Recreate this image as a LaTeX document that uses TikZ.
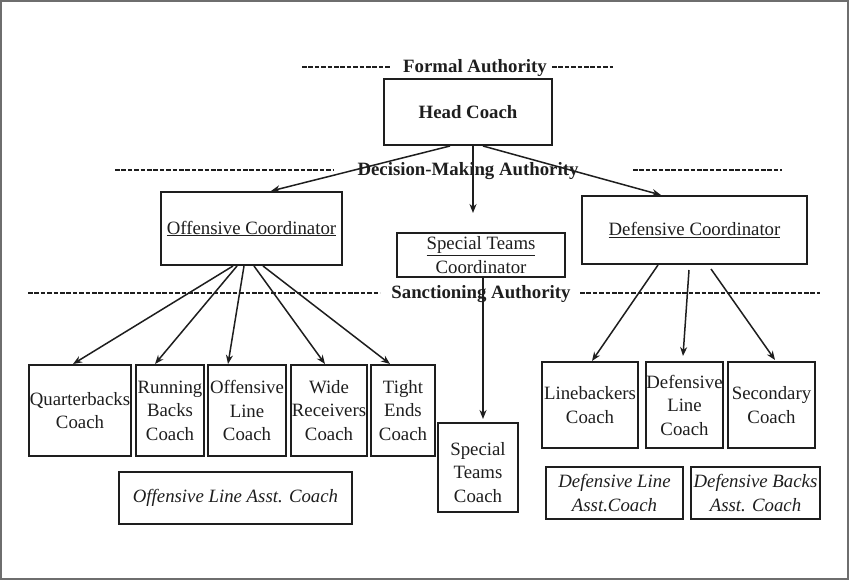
\documentclass[tikz,border=0pt]{standalone}
\usepackage{fontspec}
\setmainfont{Liberation Serif}
\usetikzlibrary{arrows.meta}
\definecolor{ink}{RGB}{30,30,30}
\definecolor{framegray}{RGB}{110,110,110}
\begin{document}
\begin{tikzpicture}[x=1pt,y=-1pt,
  every node/.style={font=\fontsize{18.8}{23.5}\selectfont, text=ink, inner sep=0pt, align=center},
  box/.style={draw=ink, line width=2pt},
  arr/.style={draw=ink, line width=1.5pt, -{Stealth[length=9pt,width=7pt]}},
  dsh/.style={draw=ink, line width=2.4pt, dash pattern=on 4.6pt off 1.8pt},
  lvl/.style={font=\fontsize{18.8}{23.5}\selectfont\bfseries}]
\useasboundingbox (0,0) rectangle (850,581);
\fill[white] (0,0) rectangle (850,581);
\draw[framegray, line width=2pt] (1,1) rectangle (848,579);

% level labels
\node[lvl] (formal) at (475,68) {Formal Authority};
\draw[dsh] (302,67) -- (390,67);
\draw[dsh] (552,67) -- (613,67);
\node[lvl] (decision) at (468,171) {Decision-Making Authority};
\draw[dsh] (115,170) -- (334,170);
\draw[dsh] (633,170) -- (782,170);
\node[lvl] (sanction) at (481,294) {Sanctioning Authority};
\draw[dsh] (28,293) -- (380,293);
\draw[dsh] (580,293) -- (820,293);

% boxes
\node[box, minimum width=168, minimum height=66, font=\fontsize{18.8}{23.5}\selectfont\bfseries] (hc) at (468,112) {Head Coach};
\node[box, minimum width=181, minimum height=73] (oc) at (251.5,228.5) {\underline{Offensive Coordinator}};
\node[box, minimum width=168, minimum height=44] (stc) at (481,255) {\underline{Special Teams}\\Coordinator};
\node[box, minimum width=225, minimum height=68] (dc) at (694.5,230) {\underline{Defensive Coordinator}};

\node[box, minimum width=102, minimum height=91] (qb) at (80,410.5) {Quarterbacks\\Coach};
\node[box, minimum width=68, minimum height=91] (rb) at (170,410.5) {Running\\Backs\\Coach};
\node[box, minimum width=78, minimum height=91] (ol) at (247,410.5) {Offensive\\Line\\Coach};
\node[box, minimum width=76, minimum height=91] (wr) at (329,410.5) {Wide\\Receivers\\Coach};
\node[box, minimum width=64, minimum height=91] (te) at (403,410.5) {Tight\\Ends\\Coach};
\node[box, minimum width=233, minimum height=52, font=\fontsize{18.8}{23.5}\selectfont\itshape] (ola) at (235.5,498) {Offensive Line Asst. Coach};

\node[box, minimum width=80, minimum height=89] (stcoach) at (478,467.5) {};
\node (stcoachtxt) at ([yshift=-5pt]stcoach.center) {Special\\Teams\\Coach};

\node[box, minimum width=96, minimum height=86] (lb) at (590,405) {Linebackers\\Coach};
\node[box, minimum width=77, minimum height=86] (dl) at (684.5,405) {Defensive\\Line\\Coach};
\node[box, minimum width=87, minimum height=86] (sec) at (771.5,405) {Secondary\\Coach};
\node[box, minimum width=137, minimum height=52, font=\fontsize{18.8}{23.5}\selectfont\itshape] (dla) at (614.5,493) {Defensive Line\\Asst.Coach};
\node[box, minimum width=129, minimum height=52, font=\fontsize{18.8}{23.5}\selectfont\itshape] (dba) at (755.5,493) {Defensive Backs\\Asst. Coach};

% connectors
\draw[arr] ([xshift=-18pt]hc.south) -- ([xshift=19.5pt]oc.north);
\draw[arr] ([xshift=15pt]hc.south) -- ([xshift=-33.5pt]dc.north);
\coordinate (vend) at (473,213);
\draw[arr] ([xshift=5pt]hc.south) -- (vend);
\draw[arr] ([xshift=2pt]stc.south) -- ([xshift=5pt,yshift=3pt]stcoach.north);

\draw[arr] ([xshift=-18.5pt]oc.south) -- ([xshift=-7pt]qb.north);
\draw[arr] ([xshift=-14.5pt]oc.south) -- ([xshift=-15pt]rb.north);
\draw[arr] ([xshift=-7.5pt]oc.south) -- ([xshift=-19pt]ol.north);
\draw[arr] ([xshift=2.5pt]oc.south) -- ([xshift=-4pt]wr.north);
\draw[arr] ([xshift=11.5pt]oc.south) -- ([xshift=-13pt]te.north);

\draw[arr] ([xshift=-36.5pt]dc.south) -- ([xshift=2pt]lb.north);
\draw[arr] ([xshift=-5.5pt,yshift=-5pt]dc.south) -- ([xshift=-1.5pt,yshift=5pt]dl.north);
\draw[arr] ([xshift=16.5pt,yshift=-4pt]dc.south) -- ([xshift=3.5pt,yshift=1pt]sec.north);
\end{tikzpicture}
\end{document}
